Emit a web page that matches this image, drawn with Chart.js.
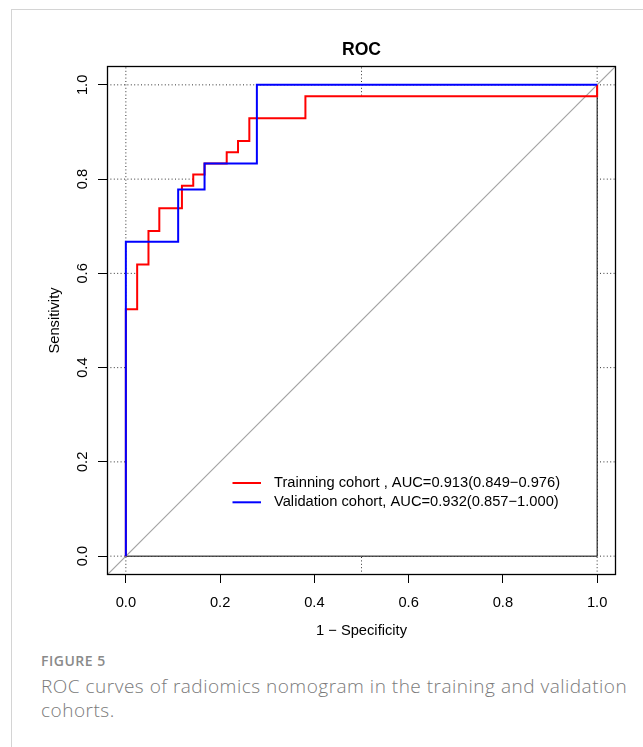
<!DOCTYPE html>
<html><head><meta charset="utf-8">
<script src="https://cdn.jsdelivr.net/npm/chart.js@4/dist/chart.umd.min.js"></script>
<style>
html,body{margin:0;padding:0;background:#fff;width:643px;height:747px;overflow:hidden;}
#frame{position:absolute;left:11px;top:9px;width:640px;height:750px;border-top:1px solid #d4d4d4;border-left:1px solid #d4d4d4;}
#wrap{position:absolute;left:0;top:0;width:643px;height:645px;}
#cap{position:absolute;left:41px;top:651px;font-family:"Open Sans",sans-serif;color:#7a7a7a;}
.fig{font-size:14px;font-weight:600;color:#8a8a8a;line-height:20px;letter-spacing:0.5px;}
.txt{font-size:19px;line-height:24px;font-weight:300;color:#7a7a7a;letter-spacing:0.5px;white-space:nowrap;margin-top:3px;}
</style></head><body>
<div id="frame"></div>
<div id="wrap"><canvas id="c" width="643" height="645"></canvas></div>
<div id="cap"><div class="fig">FIGURE 5</div><div class="txt">ROC curves of radiomics nomogram in the training and validation<br>cohorts.</div></div>
<script>
// ---- data ----
const trainFPR = [0, 0, 0.024, 0.024, 0.048, 0.048, 0.071, 0.071, 0.119, 0.119, 0.143, 0.143, 0.167, 0.167, 0.214, 0.214, 0.238, 0.238, 0.262, 0.262, 0.381, 0.381, 1, 1];
const trainTPR = [0, 0.524, 0.524, 0.619, 0.619, 0.690, 0.690, 0.738, 0.738, 0.786, 0.786, 0.810, 0.810, 0.833, 0.833, 0.857, 0.857, 0.881, 0.881, 0.929, 0.929, 0.976, 0.976, 1];
const validFPR = [0, 0, 0.111, 0.111, 0.167, 0.167, 0.278, 0.278, 1];
const validTPR = [0, 0.667, 0.667, 0.778, 0.778, 0.833, 0.833, 1, 1];
const trainLabel = "Trainning cohort , AUC=0.913(0.849\u22120.976)";
const validLabel = "Validation cohort, AUC=0.932(0.857\u22121.000)";
const xTicks = [0, 0.2, 0.4, 0.6, 0.8, 1.0];
const yTicks = [0, 0.2, 0.4, 0.6, 0.8, 1.0];
const xGrid = [0, 0.5, 1.0];
const axisRange = [-0.04, 1.04];
const chartTitle = "ROC";
const xTitle = "1 \u2212 Specificity";
const yTitle = "Sensitivity";

const FONT = '"Liberation Sans", Arial, Helvetica, sans-serif';
const FS = 14.7;
const pts = (xs, ys) => xs.map((x, i) => ({x: x, y: ys[i]}));

const gridSets = [];
yTicks.forEach(v => gridSets.push({data: [{x: axisRange[0], y: v}, {x: axisRange[1], y: v}]}));
xGrid.forEach(v => gridSets.push({data: [{x: v, y: axisRange[0]}, {x: v, y: axisRange[1]}]}));
gridSets.forEach(d => Object.assign(d, {borderColor: '#333', borderWidth: 1, borderDash: [1, 2.4], pointRadius: 0, order: 10, showLine: true}));

const lo = xTicks[0], hi = xTicks[xTicks.length - 1];
const datasets = [
  {label: validLabel, data: pts(validFPR, validTPR), borderColor: '#0000ff', borderWidth: 2, pointRadius: 0, showLine: true, order: 1},
  {label: trainLabel, data: pts(trainFPR, trainTPR), borderColor: '#ff0000', borderWidth: 2, pointRadius: 0, showLine: true, order: 2},
  {label: 'diag', data: [{x: axisRange[0], y: axisRange[0]}, {x: axisRange[1], y: axisRange[1]}], borderColor: '#a3a3a3', borderWidth: 1.2, pointRadius: 0, showLine: true, order: 3},
  {label: 'frame', data: [{x: lo, y: lo}, {x: hi, y: lo}, {x: hi, y: hi}], borderColor: '#000', borderWidth: 1, pointRadius: 0, showLine: true, order: 4},
  {label: 'under', data: pts(trainFPR, trainTPR), borderWidth: 0, borderColor: 'rgba(0,0,0,0)', backgroundColor: '#fff', fill: 'origin', pointRadius: 0, showLine: true, order: 5},
  ...gridSets
];

const textPlugin = {
  id: 'texts',
  afterDraw(chart) {
    const ctx = chart.ctx, a = chart.chartArea;
    const ys = chart.scales.y;
    ctx.save();
    // box
    ctx.strokeStyle = '#000'; ctx.lineWidth = 1.3;
    ctx.strokeRect(a.left + 0.5, a.top + 0.5, a.right - a.left - 1, a.bottom - a.top - 1);
    ctx.fillStyle = '#000';
    // title
    ctx.font = 'bold 17.6px ' + FONT; ctx.textAlign = 'center'; ctx.textBaseline = 'alphabetic';
    ctx.fillText(chartTitle, (a.left + a.right) / 2, 54.5);
    // x title
    ctx.font = FS + 'px ' + FONT;
    ctx.fillText(xTitle, (a.left + a.right) / 2, 635);
    // y title
    ctx.save(); ctx.translate(59, (a.top + a.bottom) / 2); ctx.rotate(-Math.PI / 2);
    ctx.fillText(yTitle, 0, 0); ctx.restore();
    // y tick labels
    yTicks.forEach(v => {
      ctx.save(); ctx.translate(87, ys.getPixelForValue(v)); ctx.rotate(-Math.PI / 2);
      ctx.fillText(v.toFixed(1), 0, 0); ctx.restore();
    });
    // legend
    const items = [chart.data.datasets[1], chart.data.datasets[0]];
    ctx.textAlign = 'left'; ctx.textBaseline = 'middle';
    items.forEach((d, i) => {
      const y = 483 + i * 19.3;
      ctx.strokeStyle = d.borderColor; ctx.lineWidth = 2;
      ctx.beginPath(); ctx.moveTo(232.5, y); ctx.lineTo(261, y); ctx.stroke();
      ctx.fillStyle = '#000';
      ctx.fillText(d.label, 274, y);
    });
    ctx.restore();
  }
};

new Chart(document.getElementById('c'), {
  type: 'scatter',
  data: {datasets: datasets},
  options: {
    responsive: false, animation: false, devicePixelRatio: 1,
    layout: {padding: {left: 0, right: 27, top: 66, bottom: 0}},
    plugins: {legend: {display: false}, tooltip: {enabled: false}, title: {display: false}},
    scales: {
      x: {
        type: 'linear', min: axisRange[0], max: axisRange[1],
        afterBuildTicks: s => { s.ticks = xTicks.map(v => ({value: v})); },
        afterFit: s => { s.height = 70; },
        ticks: {color: '#000', font: {family: FONT, size: FS}, padding: 11, maxRotation: 0, autoSkip: false, callback: v => Number(v).toFixed(1)},
        grid: {drawOnChartArea: false, drawTicks: true, tickLength: 8, tickColor: '#000', color: '#000', lineWidth: 1},
        border: {display: false}
      },
      y: {
        type: 'linear', min: axisRange[0], max: axisRange[1],
        afterBuildTicks: s => { s.ticks = yTicks.map(v => ({value: v})); },
        afterFit: s => { s.width = 107; },
        ticks: {display: false},
        grid: {drawOnChartArea: false, drawTicks: true, tickLength: 9, tickColor: '#000', color: '#000', lineWidth: 1},
        border: {display: false}
      }
    }
  },
  plugins: [textPlugin]
});
</script>
</body></html>
